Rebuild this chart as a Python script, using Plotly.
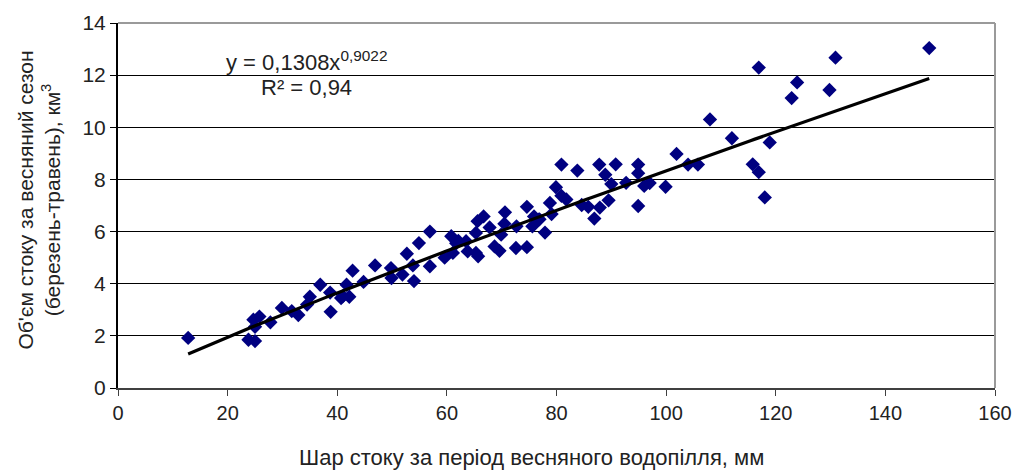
import numpy as np
import plotly.graph_objects as go

# Observed data: spring flood runoff depth (mm) vs spring-season runoff volume (km3)
runoff_depth_mm = [
    12.8, 23.8, 25.0, 24.7, 25.8, 25.0, 27.8, 29.9, 31.7, 32.9,
    34.5, 35.0, 36.9, 38.8, 38.7, 41.0, 42.2, 41.7, 40.7, 42.8,
    44.8, 46.9, 49.8, 49.9, 51.9, 52.7, 53.8, 54.0, 54.9, 56.9,
    56.9, 59.6, 60.8, 61.1, 61.7, 62.1, 63.5, 63.8, 65.3, 65.3,
    65.7, 65.6, 66.7, 67.8, 68.7, 69.6, 69.9, 70.6, 70.5, 72.6,
    72.7, 74.6, 74.6, 75.6, 75.9, 76.7, 76.9, 77.9, 78.8, 79.1,
    79.9, 80.9, 80.9, 81.8, 83.8, 84.6, 85.8, 86.9, 87.8, 87.9,
    88.9, 89.5, 90.0, 90.8, 92.7, 94.9, 94.9, 94.9, 96.0, 97.0,
    99.9, 101.9, 104.0, 105.8, 108.0, 112.0, 115.8, 116.9, 116.9, 118.0,
    118.9, 122.9, 123.9, 129.8, 130.9, 148.0,
]
spring_volume_km3 = [
    1.92, 1.85, 1.80, 2.62, 2.74, 2.35, 2.52, 3.07, 2.95, 2.80,
    3.20, 3.50, 3.96, 2.92, 3.66, 3.52, 3.50, 3.96, 3.45, 4.50,
    4.07, 4.70, 4.60, 4.22, 4.35, 5.15, 4.70, 4.10, 5.56, 6.00,
    4.67, 5.00, 5.82, 5.18, 5.55, 5.64, 5.63, 5.24, 5.95, 5.18,
    5.05, 6.40, 6.58, 6.16, 5.43, 5.26, 5.88, 6.74, 6.30, 5.37,
    6.20, 5.40, 6.95, 6.20, 6.58, 6.46, 6.47, 5.96, 7.10, 6.67,
    7.70, 8.57, 7.37, 7.23, 8.34, 7.02, 6.95, 6.50, 8.57, 6.92,
    8.18, 7.20, 7.82, 8.58, 7.87, 8.57, 8.24, 6.98, 7.75, 7.86,
    7.72, 8.98, 8.57, 8.57, 10.30, 9.58, 8.58, 12.29, 8.28, 7.31,
    9.42, 11.12, 11.72, 11.43, 12.67, 13.04,
]

# Power trendline as stated on the chart
trend_coef = 0.1308
trend_exp = 0.9022
equation_text = "y = 0,1308x<sup>0,9022</sup>"
r2_text = "R² = 0,94"

x_ticks = [0, 20, 40, 60, 80, 100, 120, 140, 160]
y_ticks = [0, 2, 4, 6, 8, 10, 12, 14]

x_title = "Шар стоку за період весняного водопілля, мм"
y_title = "Об'єм стоку за весняний сезон<br>(березень-травень), км<sup>3</sup>"

xs = np.array(runoff_depth_mm)
trend_x = np.linspace(xs.min(), xs.max(), 200)
trend_y = trend_coef * trend_x ** trend_exp

FONT = "Liberation Sans, Arial, sans-serif"
TXT = "#222222"

fig = go.Figure()
fig.add_trace(go.Scatter(
    x=runoff_depth_mm, y=spring_volume_km3, mode="markers",
    marker=dict(symbol="diamond", size=11, color="#000080", line=dict(width=0)),
    showlegend=False, hoverinfo="x+y",
))
fig.add_trace(go.Scatter(
    x=trend_x, y=trend_y, mode="lines",
    line=dict(color="black", width=3.2),
    showlegend=False, hoverinfo="skip",
))

fig.add_annotation(x=34.4, y=12.55, xref="x", yref="y", text=equation_text,
                   showarrow=False, font=dict(family=FONT, size=22, color=TXT))
fig.add_annotation(x=34.3, y=11.52, xref="x", yref="y", text=r2_text,
                   showarrow=False, font=dict(family=FONT, size=22, color=TXT))

# axis titles
fig.add_annotation(x=0.471, y=-0.19, xref="paper", yref="paper", text=x_title,
                   showarrow=False, xanchor="center", yanchor="middle",
                   font=dict(family=FONT, size=22, color=TXT))
fig.add_annotation(x=-0.0906, y=0.515, xref="paper", yref="paper", text=y_title,
                   showarrow=False, xanchor="center", yanchor="middle", textangle=-90,
                   font=dict(family=FONT, size=21, color=TXT))

# top and right plot border (grey)
fig.add_shape(type="line", xref="paper", yref="paper", x0=0, x1=1, y0=1, y1=1,
              line=dict(color="#9a9a9a", width=2))
fig.add_shape(type="line", xref="paper", yref="paper", x0=1, x1=1, y0=0, y1=1,
              line=dict(color="#9a9a9a", width=2))

fig.update_layout(
    width=1016, height=470,
    margin=dict(l=118, r=21, t=23, b=82),
    paper_bgcolor="white", plot_bgcolor="white",
    font=dict(family=FONT, size=20, color=TXT),
    xaxis=dict(
        range=[0, 160], tickvals=x_ticks, ticktext=[str(v) for v in x_ticks],
        showgrid=False, zeroline=False, automargin=False,
        showline=True, linecolor="#404040", linewidth=2,
        ticks="outside", ticklen=6, tickcolor="#404040", tickwidth=1,
        tickfont=dict(family=FONT, size=20, color=TXT),
    ),
    yaxis=dict(
        range=[0, 14], tickvals=y_ticks, ticktext=[str(v) for v in y_ticks],
        showgrid=True, gridcolor="black", gridwidth=1, zeroline=False, automargin=False,
        showline=True, linecolor="black", linewidth=2,
        ticks="outside", ticklen=6, tickcolor="black", tickwidth=1,
        tickfont=dict(family=FONT, size=21, color=TXT),
    ),
)

fig.write_html(
    "out.html",
    config={"displayModeBar": False},
    post_script="document.body.style.margin='0';document.body.style.overflow='hidden';",
)
